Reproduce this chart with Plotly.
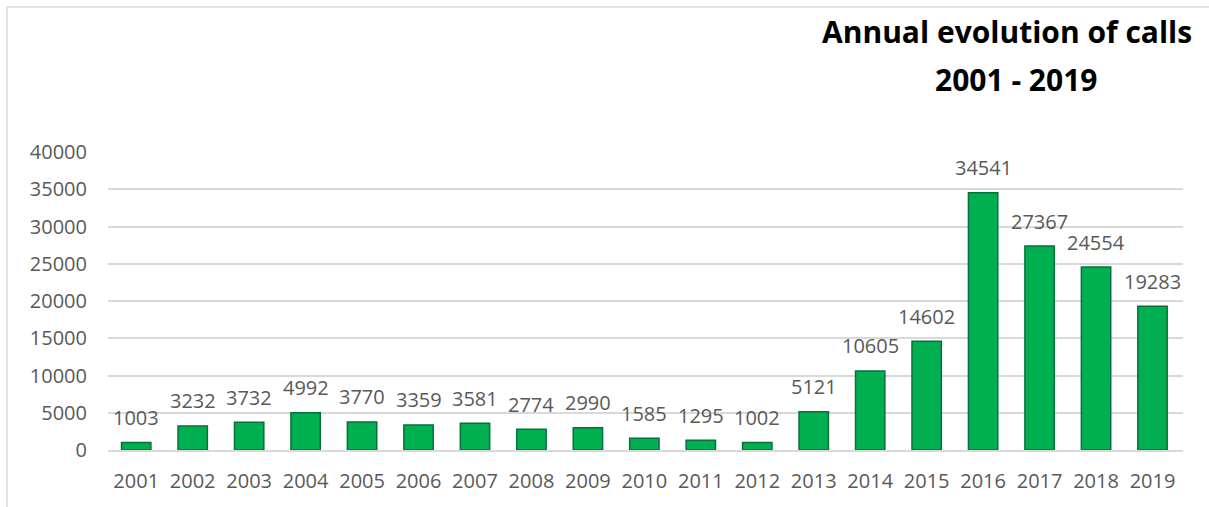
import plotly.graph_objects as go

years = ["2001", "2002", "2003", "2004", "2005", "2006", "2007", "2008", "2009", "2010",
         "2011", "2012", "2013", "2014", "2015", "2016", "2017", "2018", "2019"]
calls = [1003, 3232, 3732, 4992, 3770, 3359, 3581, 2774, 2990, 1585,
         1295, 1002, 5121, 10605, 14602, 34541, 27367, 24554, 19283]
y_ticks = [0, 5000, 10000, 15000, 20000, 25000, 30000, 35000, 40000]

FONT = "Open Sans"
GREY = "#595959"

# plot area in pixels
L, R, T, B = 108, 1183, 152, 450
PW, PH = R - L, B - T


def px(x):
    return (x - L) / PW


def py(y):
    return (B - y) / PH


fig = go.Figure()
fig.add_trace(go.Bar(
    x=years, y=calls,
    width=0.52,
    marker=dict(color="#00B050", line=dict(color="#08703A", width=1.5)),
    hoverinfo="x+y",
))

annotations = []
for i, v in enumerate(calls):
    annotations.append(dict(
        x=i, y=v, xref="x", yref="y", text=str(v), showarrow=False,
        yanchor="middle", yshift=25,
        font=dict(family=FONT, size=20, color=GREY),
    ))

annotations.append(dict(
    x=px(1007), y=py(32), xref="paper", yref="paper",
    text="<b>Annual evolution of calls</b>", showarrow=False,
    xanchor="center", yanchor="middle",
    font=dict(family=FONT, size=30, color="#000000"),
))
annotations.append(dict(
    x=px(1016), y=py(80), xref="paper", yref="paper",
    text="<b>2001 - 2019</b>", showarrow=False,
    xanchor="center", yanchor="middle",
    font=dict(family=FONT, size=30, color="#000000"),
))

shapes = [
    dict(type="line", xref="paper", yref="paper",
         x0=px(7), x1=px(7), y0=py(7), y1=py(520),
         line=dict(color="#D9D9D9", width=1.5)),
    dict(type="line", xref="paper", yref="paper",
         x0=px(7), x1=px(1220), y0=py(7), y1=py(7),
         line=dict(color="#D9D9D9", width=1.5)),
]

fig.update_layout(
    width=1209, height=507,
    margin=dict(l=L, r=1209 - R, t=T, b=507 - B),
    paper_bgcolor="white", plot_bgcolor="white",
    showlegend=False,
    annotations=annotations,
    shapes=shapes,
    font=dict(family=FONT, size=20, color=GREY),
)
fig.update_xaxes(
    type="category", showgrid=False, showline=True, linecolor="#D9D9D9", linewidth=1.5,
    ticks="", ticklabelstandoff=12,
    tickfont=dict(family=FONT, size=20, color=GREY),
)
fig.update_yaxes(
    range=[0, 40000], tickvals=y_ticks, ticktext=[str(t) for t in y_ticks],
    showgrid=True, gridcolor="#D9D9D9", gridwidth=1.5, zeroline=False,
    showline=False, ticks="", ticklabelstandoff=20,
    tickfont=dict(family=FONT, size=20, color=GREY),
)

fig.write_html("out.html", config={"displayModeBar": False},
               post_script="document.body.style.margin='0';")
